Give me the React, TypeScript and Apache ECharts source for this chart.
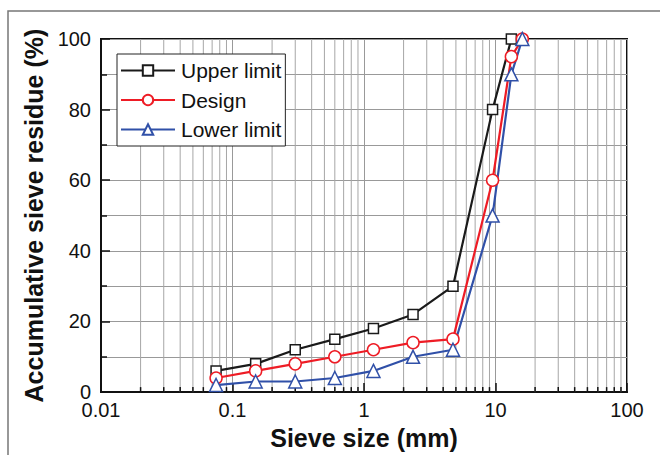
import React, { useEffect, useRef } from "react";
import * as echarts from "echarts";

const sieveSizes = [0.075, 0.15, 0.3, 0.6, 1.18, 2.36, 4.75, 9.5, 13.2, 16];
const upperLimit = [6, 8, 12, 15, 18, 22, 30, 80, 100];
const design = [4, 6, 8, 10, 12, 14, 15, 60, 95, 100];
const lowerLimit = [2, 3, 3, 4, 6, 10, 12, 50, 90, 100];
const minorXTicks = [
  0.02, 0.03, 0.04, 0.05, 0.06, 0.07, 0.08, 0.09,
  0.2, 0.3, 0.4, 0.5, 0.6, 0.7, 0.8, 0.9,
  2, 3, 4, 5, 6, 7, 8, 9,
  20, 30, 40, 50, 60, 70, 80, 90,
];
const seriesNames = ["Upper limit", "Design", "Lower limit"];
const colors = ["#1a1a1a", "#ee1c25", "#3050a8"];
const symbols = ["rect", "circle", "triangle"];
const symbolSizes = [10, 12, 13];

const FONT = "'Liberation Sans', Arial, sans-serif";

export default function App() {
  const ref = useRef<HTMLDivElement>(null);
  useEffect(() => {
    const chart = echarts.init(ref.current!, null, { renderer: "svg" });
    const values = [upperLimit, design, lowerLimit];
    const lineSeries = seriesNames.map((name, i) => ({
      name,
      type: "line",
      data: values[i].map((v, j) => [sieveSizes[j], v]),
      symbol: symbols[i],
      symbolSize: symbolSizes[i],
      showAllSymbol: true,
      z: 5,
      lineStyle: { color: colors[i], width: 2.2 },
      itemStyle: { color: "#fff", borderColor: colors[i], borderWidth: 1.5 },
      emphasis: { disabled: true },
    }));
    chart.setOption({
      animation: false,
      backgroundColor: "#fff",
      textStyle: { fontFamily: FONT },
      graphic: [
        {
          type: "rect",
          shape: { x: 8, y: 11, width: 720, height: 520 },
          style: { fill: "none", stroke: "#777", lineWidth: 1.5 },
          z: -10,
          silent: true,
        },
      ],
      grid: {
        left: 101,
        right: 33,
        top: 39,
        bottom: 61,
        show: true,
        borderColor: "#111",
        borderWidth: 2,
        backgroundColor: "transparent",
      },
      legend: {
        data: seriesNames,
        orient: "vertical",
        left: 117,
        top: 54,
        itemWidth: 54,
        itemHeight: 13,
        itemGap: 8.5,
        padding: [6, 4, 6, 3],
        borderColor: "#222",
        borderWidth: 1,
        backgroundColor: "#fff",
        textStyle: { fontSize: 21, color: "#111", fontFamily: FONT, lineHeight: 20, padding: [0, 0, 0, 1] },
        z: 10,
      },
      xAxis: {
        type: "log",
        logBase: 10,
        min: 0.01,
        max: 100,
        name: "Sieve size (mm)",
        nameLocation: "middle",
        nameGap: 32,
        nameTextStyle: { fontSize: 25, fontWeight: "bold", color: "#111", fontFamily: FONT },
        axisLine: { lineStyle: { color: "#111", width: 2 } },
        axisTick: { inside: true, length: 9, lineStyle: { color: "#111", width: 1.5 } },
        axisLabel: {
          fontSize: 20,
          lineHeight: 16,
          color: "#111",
          margin: 10,
          fontFamily: FONT,
          formatter: (v: number) => String(Number(v.toPrecision(3))),
        },
        splitLine: { show: true, lineStyle: { color: "#999", width: 1 } },
      },
      yAxis: {
        type: "value",
        min: 0,
        max: 100,
        interval: 20,
        name: "Accumulative sieve residue (%)",
        nameLocation: "middle",
        nameGap: 43,
        nameTextStyle: { fontSize: 25, fontWeight: "bold", color: "#111", fontFamily: FONT },
        axisLine: { lineStyle: { color: "#111", width: 2 } },
        axisTick: { inside: true, length: 9, lineStyle: { color: "#111", width: 1.5 } },
        minorTick: { show: true, splitNumber: 2, length: 6, lineStyle: { color: "#111", width: 1.5 } },
        axisLabel: { fontSize: 20, lineHeight: 16, color: "#111", margin: 10, fontFamily: FONT },
        splitLine: { show: true, lineStyle: { color: "#999", width: 1 } },
        minorSplitLine: { show: true, lineStyle: { color: "#999", width: 1 } },
      },
      series: [
        {
          type: "custom",
          silent: true,
          z: 1,
          data: minorXTicks.map((x) => [x, 0]),
          encode: { x: 0, y: 1 },
          renderItem: (params: any, api: any) => {
            const x = api.value(0);
            const bottom = api.coord([x, 0]);
            const top = api.coord([x, 100]);
            return {
              type: "group",
              children: [
                {
                  type: "line",
                  shape: { x1: bottom[0], y1: bottom[1], x2: top[0], y2: top[1] },
                  style: { stroke: "#a6a6a6", lineWidth: 1 },
                },
                {
                  type: "line",
                  shape: { x1: bottom[0], y1: bottom[1], x2: bottom[0], y2: bottom[1] - 5 },
                  style: { stroke: "#111", lineWidth: 1.5 },
                },
              ],
            };
          },
        },
        ...lineSeries,
      ],
    });
    return () => chart.dispose();
  }, []);
  return (
    <div
      ref={ref}
      style={{ position: "absolute", left: 0, top: 0, width: 660, height: 455 }}
    />
  );
}
